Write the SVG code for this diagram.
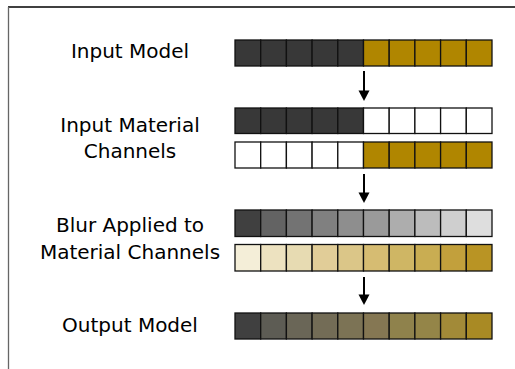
<svg xmlns="http://www.w3.org/2000/svg" width="515" height="369" viewBox="0 0 515 369">
<style>
text{font-family:"DejaVu Sans","Liberation Sans",sans-serif;font-size:20px;fill:#000;text-anchor:middle}
.c rect{stroke:#111;stroke-width:1.3}
.ar line{stroke:#000;stroke-width:2}
.ar polygon{fill:#000}
</style>
<rect width="515" height="369" fill="#fff"/>
<line x1="8" y1="7" x2="515" y2="7" stroke="#000" stroke-width="1.3"/>
<line x1="8.5" y1="7" x2="8.5" y2="369" stroke="#666" stroke-width="1.3"/>

<g id="input-model">
<text x="130" y="58">Input Model</text>
<g class="c" transform="translate(0,40)">
<rect x="235" width="25.7" height="26" fill="#383838"/>
<rect x="260.7" width="25.7" height="26" fill="#383838"/>
<rect x="286.4" width="25.7" height="26" fill="#383838"/>
<rect x="312.1" width="25.7" height="26" fill="#383838"/>
<rect x="337.8" width="25.7" height="26" fill="#383838"/>
<rect x="363.5" width="25.7" height="26" fill="#b08600"/>
<rect x="389.2" width="25.7" height="26" fill="#b08600"/>
<rect x="414.9" width="25.7" height="26" fill="#b08600"/>
<rect x="440.6" width="25.7" height="26" fill="#b08600"/>
<rect x="466.3" width="25.7" height="26" fill="#b08600"/>
</g>
</g>

<g id="input-material-channels">
<text x="130" y="132">Input Material</text>
<text x="130" y="158">Channels</text>
<g class="c" transform="translate(0,108)">
<rect x="235" width="25.7" height="25.5" fill="#383838"/>
<rect x="260.7" width="25.7" height="25.5" fill="#383838"/>
<rect x="286.4" width="25.7" height="25.5" fill="#383838"/>
<rect x="312.1" width="25.7" height="25.5" fill="#383838"/>
<rect x="337.8" width="25.7" height="25.5" fill="#383838"/>
<rect x="363.5" width="25.7" height="25.5" fill="#fff"/>
<rect x="389.2" width="25.7" height="25.5" fill="#fff"/>
<rect x="414.9" width="25.7" height="25.5" fill="#fff"/>
<rect x="440.6" width="25.7" height="25.5" fill="#fff"/>
<rect x="466.3" width="25.7" height="25.5" fill="#fff"/>
</g>
<g class="c" transform="translate(0,142)">
<rect x="235" width="25.7" height="26" fill="#fff"/>
<rect x="260.7" width="25.7" height="26" fill="#fff"/>
<rect x="286.4" width="25.7" height="26" fill="#fff"/>
<rect x="312.1" width="25.7" height="26" fill="#fff"/>
<rect x="337.8" width="25.7" height="26" fill="#fff"/>
<rect x="363.5" width="25.7" height="26" fill="#b08600"/>
<rect x="389.2" width="25.7" height="26" fill="#b08600"/>
<rect x="414.9" width="25.7" height="26" fill="#b08600"/>
<rect x="440.6" width="25.7" height="26" fill="#b08600"/>
<rect x="466.3" width="25.7" height="26" fill="#b08600"/>
</g>
</g>

<g id="blur-applied">
<text x="130" y="232">Blur Applied to</text>
<text x="130" y="259">Material Channels</text>
<g class="c" transform="translate(0,210)">
<rect x="235" width="25.7" height="26.5" fill="#404040"/>
<rect x="260.7" width="25.7" height="26.5" fill="#636363"/>
<rect x="286.4" width="25.7" height="26.5" fill="#737373"/>
<rect x="312.1" width="25.7" height="26.5" fill="#808080"/>
<rect x="337.8" width="25.7" height="26.5" fill="#8e8e8e"/>
<rect x="363.5" width="25.7" height="26.5" fill="#9a9a9a"/>
<rect x="389.2" width="25.7" height="26.5" fill="#adadad"/>
<rect x="414.9" width="25.7" height="26.5" fill="#bcbcbc"/>
<rect x="440.6" width="25.7" height="26.5" fill="#cfcfcf"/>
<rect x="466.3" width="25.7" height="26.5" fill="#dedede"/>
</g>
<g class="c" transform="translate(0,244.5)">
<rect x="235" width="25.7" height="26.5" fill="#f4eed8"/>
<rect x="260.7" width="25.7" height="26.5" fill="#ede2c0"/>
<rect x="286.4" width="25.7" height="26.5" fill="#e7dbb2"/>
<rect x="312.1" width="25.7" height="26.5" fill="#e1cd98"/>
<rect x="337.8" width="25.7" height="26.5" fill="#dbc688"/>
<rect x="363.5" width="25.7" height="26.5" fill="#d6bc72"/>
<rect x="389.2" width="25.7" height="26.5" fill="#cfb664"/>
<rect x="414.9" width="25.7" height="26.5" fill="#c9ad52"/>
<rect x="440.6" width="25.7" height="26.5" fill="#c2a03c"/>
<rect x="466.3" width="25.7" height="26.5" fill="#b99424"/>
</g>
</g>

<g id="output-model">
<text x="130" y="332">Output Model</text>
<g class="c" transform="translate(0,313)">
<rect x="235" width="25.7" height="26" fill="#404040"/>
<rect x="260.7" width="25.7" height="26" fill="#5d5c54"/>
<rect x="286.4" width="25.7" height="26" fill="#6a6657"/>
<rect x="312.1" width="25.7" height="26" fill="#736c56"/>
<rect x="337.8" width="25.7" height="26" fill="#7c7355"/>
<rect x="363.5" width="25.7" height="26" fill="#857753"/>
<rect x="389.2" width="25.7" height="26" fill="#8f824c"/>
<rect x="414.9" width="25.7" height="26" fill="#948548"/>
<rect x="440.6" width="25.7" height="26" fill="#a28a38"/>
<rect x="466.3" width="25.7" height="26" fill="#a98a24"/>
</g>
</g>

<g id="connectors" class="ar">
<line x1="364" y1="71" x2="364" y2="92"/>
<polygon points="358.5,90.5 369.5,90.5 364,101"/>
<line x1="364" y1="174" x2="364" y2="194"/>
<polygon points="358.5,192.5 369.5,192.5 364,203"/>
<line x1="364" y1="277" x2="364" y2="296"/>
<polygon points="358.5,294.5 369.5,294.5 364,305"/>
</g>
</svg>
